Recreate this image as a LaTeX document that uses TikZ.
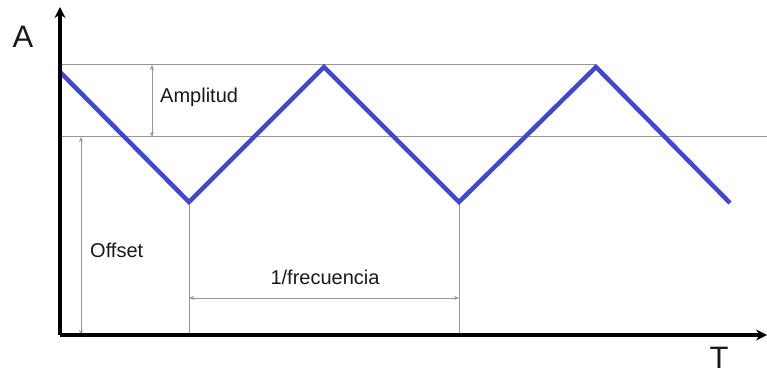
\documentclass[tikz,border=0pt]{standalone}
\usepackage{fontspec}
\setmainfont{Liberation Sans}
\usetikzlibrary{arrows.meta}
\definecolor{wave}{RGB}{66,72,204}
\definecolor{guide}{RGB}{150,150,150}
\tikzset{
  axisline/.style={line width=4pt,-{Stealth[length=11pt,width=11pt]}},
  guideline/.style={draw=guide,line width=1pt},
  dimline/.style={draw=guide,line width=1pt,{Stealth[length=5pt,width=4pt]}-{Stealth[length=5pt,width=4pt]}},
  waveline/.style={draw=wave,line width=4.5pt,line join=miter},
  lbl/.style={inner sep=0pt,font=\fontsize{20}{24}\selectfont,text=black!90},
  biglbl/.style={inner sep=0pt,font=\fontsize{31}{36}\selectfont,text=black!90}
}
\begin{document}
\begin{tikzpicture}[x=1pt,y=-1pt]
\useasboundingbox (0,0) rectangle (767,374);
% coordinates
\coordinate (o) at (60,335);
\coordinate (ytop) at (60,7);
\coordinate (xend) at (767,335);
\coordinate (w0) at (60,72);
\coordinate (w1) at (189,202);
\coordinate (w2) at (324,67);
\coordinate (w3) at (459,202);
\coordinate (w4) at (596,67);
\coordinate (w5) at (730,203);
\coordinate (t0) at (62,65);
\coordinate (t1) at (596,65);
\coordinate (m0) at (62,137);
\coordinate (m1) at (767,137);
\coordinate (a0) at (152,65);
\coordinate (a1) at (152,137);
\coordinate (f0) at (81,137);
\coordinate (f1) at (81,335);
\coordinate (v1b) at (189,335);
\coordinate (v3b) at (459,335);
\coordinate (p0) at (189,298);
\coordinate (p1) at (459,298);
% guide lines
\draw[guideline] (t0) -- (t1);
\draw[guideline] (m0) -- (m1);
\draw[guideline] (w1) -- (v1b);
\draw[guideline] (w3) -- (v3b);
% dimension arrows
\draw[dimline] (a0) -- (a1);
\draw[dimline] (f0) -- (f1);
\draw[dimline] (p0) -- (p1);
% wave
\draw[waveline] (w0) -- (w1) -- (w2) -- (w3) -- (w4) -- (w5);
% axes
\draw[axisline] (o) -- (ytop);
\draw[axisline] (o) -- (xend);
% labels
\node[lbl,anchor=west] (amp) at (160,97) {Amplitud};
\node[lbl,anchor=west] (off) at (90,250) {Offset};
\node[lbl] (freq) at (325,277) {1/frecuencia};
\node[biglbl] (A) at (23,37) {A};
\node[biglbl] (T) at (719,358) {T};
\end{tikzpicture}
\end{document}
